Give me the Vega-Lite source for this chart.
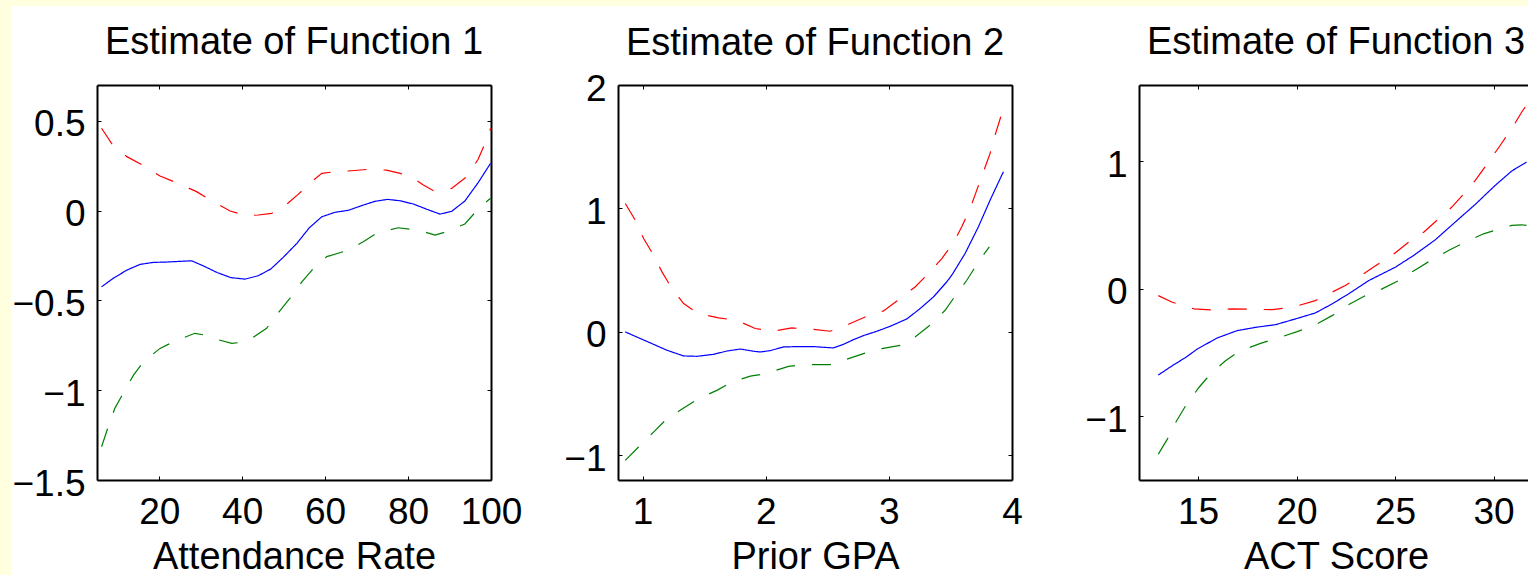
{
  "$schema": "https://vega.github.io/schema/vega-lite/v6.json",
  "background": "white",
  "padding": 0,
  "config": {
    "font": "Liberation Sans",
    "view": {"stroke": null},
    "axis": {
      "grid": false, "domainColor": "black", "domainWidth": 2,
      "tickColor": "black", "tickWidth": 1, "tickSize": -4,
      "labelFont": "Liberation Sans", "labelFontSize": 37, "labelColor": "black",
      "labelFlush": false, "labelOverlap": false, "labelPadding": 18,
      "titleFont": "Liberation Sans", "titleFontSize": 38, "titleFontWeight": "normal",
      "titleColor": "black", "titlePadding": 8
    },
    "axisY": {"labelPadding": 16, "labelOffset": 4, "labelBaseline": "middle"},
    "title": {"font": "Liberation Sans", "fontSize": 38, "fontWeight": "normal", "color": "black", "baseline": "alphabetic", "offset": 23, "anchor": "middle", "frame": "group"}
  },
  "datasets": {
    "f1": [
      {"x": 6.1, "y": -0.424, "s": "est"}, {"x": 8.9, "y": -0.377, "s": "est"}, {"x": 12.2, "y": -0.331, "s": "est"}, {"x": 15.4, "y": -0.299, "s": "est"}, {"x": 18.6, "y": -0.288, "s": "est"}, {"x": 21.8, "y": -0.286, "s": "est"}, {"x": 27.8, "y": -0.279, "s": "est"}, {"x": 30.6, "y": -0.307, "s": "est"}, {"x": 33.9, "y": -0.344, "s": "est"}, {"x": 37.3, "y": -0.373, "s": "est"}, {"x": 40.7, "y": -0.381, "s": "est"}, {"x": 43.9, "y": -0.362, "s": "est"}, {"x": 46.9, "y": -0.325, "s": "est"}, {"x": 49.9, "y": -0.26, "s": "est"}, {"x": 53.2, "y": -0.182, "s": "est"}, {"x": 56.2, "y": -0.095, "s": "est"}, {"x": 59.2, "y": -0.034, "s": "est"}, {"x": 62.4, "y": -0.009, "s": "est"}, {"x": 65.6, "y": 0.002, "s": "est"}, {"x": 68.8, "y": 0.028, "s": "est"}, {"x": 72.0, "y": 0.052, "s": "est"}, {"x": 75.1, "y": 0.063, "s": "est"}, {"x": 78.1, "y": 0.055, "s": "est"}, {"x": 81.3, "y": 0.037, "s": "est"}, {"x": 84.5, "y": 0.008, "s": "est"}, {"x": 87.7, "y": -0.019, "s": "est"}, {"x": 90.5, "y": -0.004, "s": "est"}, {"x": 93.7, "y": 0.054, "s": "est"}, {"x": 96.9, "y": 0.156, "s": "est"}, {"x": 99.9, "y": 0.264, "s": "est"},
      {"x": 6.1, "y": 0.459, "s": "up"}, {"x": 8.5, "y": 0.375, "s": "up"}, {"x": 12.2, "y": 0.301, "s": "up"}, {"x": 16.2, "y": 0.251, "s": "up"}, {"x": 20.2, "y": 0.193, "s": "up"}, {"x": 24.6, "y": 0.152, "s": "up"}, {"x": 29.0, "y": 0.106, "s": "up"}, {"x": 32.7, "y": 0.054, "s": "up"}, {"x": 37.1, "y": -0.002, "s": "up"}, {"x": 41.1, "y": -0.028, "s": "up"}, {"x": 43.9, "y": -0.024, "s": "up"}, {"x": 47.1, "y": -0.015, "s": "up"}, {"x": 49.9, "y": 0.019, "s": "up"}, {"x": 53.5, "y": 0.091, "s": "up"}, {"x": 56.7, "y": 0.161, "s": "up"}, {"x": 59.2, "y": 0.208, "s": "up"}, {"x": 62.4, "y": 0.217, "s": "up"}, {"x": 65.6, "y": 0.221, "s": "up"}, {"x": 70.4, "y": 0.23, "s": "up"}, {"x": 74.8, "y": 0.226, "s": "up"}, {"x": 78.1, "y": 0.208, "s": "up"}, {"x": 81.3, "y": 0.18, "s": "up"}, {"x": 83.7, "y": 0.143, "s": "up"}, {"x": 86.1, "y": 0.111, "s": "up"}, {"x": 88.5, "y": 0.115, "s": "up"}, {"x": 90.5, "y": 0.124, "s": "up"}, {"x": 94.1, "y": 0.189, "s": "up"}, {"x": 96.9, "y": 0.286, "s": "up"}, {"x": 99.4, "y": 0.421, "s": "up"}, {"x": 99.9, "y": 0.459, "s": "up"},
      {"x": 6.1, "y": -1.315, "s": "lo"}, {"x": 7.7, "y": -1.204, "s": "lo"}, {"x": 9.3, "y": -1.101, "s": "lo"}, {"x": 11.3, "y": -1.018, "s": "lo"}, {"x": 13.8, "y": -0.916, "s": "lo"}, {"x": 16.2, "y": -0.841, "s": "lo"}, {"x": 20.2, "y": -0.767, "s": "lo"}, {"x": 23.8, "y": -0.726, "s": "lo"}, {"x": 28.6, "y": -0.683, "s": "lo"}, {"x": 31.0, "y": -0.693, "s": "lo"}, {"x": 33.0, "y": -0.711, "s": "lo"}, {"x": 37.5, "y": -0.739, "s": "lo"}, {"x": 41.1, "y": -0.73, "s": "lo"}, {"x": 45.9, "y": -0.655, "s": "lo"}, {"x": 48.3, "y": -0.581, "s": "lo"}, {"x": 51.5, "y": -0.488, "s": "lo"}, {"x": 54.4, "y": -0.396, "s": "lo"}, {"x": 57.2, "y": -0.321, "s": "lo"}, {"x": 60.4, "y": -0.256, "s": "lo"}, {"x": 65.2, "y": -0.223, "s": "lo"}, {"x": 69.2, "y": -0.173, "s": "lo"}, {"x": 72.4, "y": -0.126, "s": "lo"}, {"x": 77.6, "y": -0.095, "s": "lo"}, {"x": 82.5, "y": -0.108, "s": "lo"}, {"x": 86.5, "y": -0.136, "s": "lo"}, {"x": 89.3, "y": -0.117, "s": "lo"}, {"x": 93.7, "y": -0.074, "s": "lo"}, {"x": 97.4, "y": 0.022, "s": "lo"}, {"x": 99.9, "y": 0.069, "s": "lo"}
    ],
    "f2": [
      {"x": 0.859, "y": 0.0, "s": "est"}, {"x": 0.981, "y": -0.054, "s": "est"}, {"x": 1.089, "y": -0.101, "s": "est"}, {"x": 1.198, "y": -0.149, "s": "est"}, {"x": 1.333, "y": -0.195, "s": "est"}, {"x": 1.441, "y": -0.198, "s": "est"}, {"x": 1.576, "y": -0.182, "s": "est"}, {"x": 1.685, "y": -0.155, "s": "est"}, {"x": 1.793, "y": -0.139, "s": "est"}, {"x": 1.901, "y": -0.157, "s": "est"}, {"x": 1.955, "y": -0.163, "s": "est"}, {"x": 2.036, "y": -0.152, "s": "est"}, {"x": 2.144, "y": -0.122, "s": "est"}, {"x": 2.28, "y": -0.119, "s": "est"}, {"x": 2.388, "y": -0.119, "s": "est"}, {"x": 2.469, "y": -0.125, "s": "est"}, {"x": 2.55, "y": -0.13, "s": "est"}, {"x": 2.631, "y": -0.101, "s": "est"}, {"x": 2.712, "y": -0.063, "s": "est"}, {"x": 2.794, "y": -0.03, "s": "est"}, {"x": 2.902, "y": 0.005, "s": "est"}, {"x": 3.01, "y": 0.045, "s": "est"}, {"x": 3.146, "y": 0.105, "s": "est"}, {"x": 3.254, "y": 0.189, "s": "est"}, {"x": 3.362, "y": 0.283, "s": "est"}, {"x": 3.47, "y": 0.405, "s": "est"}, {"x": 3.511, "y": 0.459, "s": "est"}, {"x": 3.619, "y": 0.635, "s": "est"}, {"x": 3.727, "y": 0.851, "s": "est"}, {"x": 3.822, "y": 1.067, "s": "est"}, {"x": 3.93, "y": 1.297, "s": "est"},
      {"x": 0.859, "y": 1.04, "s": "up"}, {"x": 0.94, "y": 0.905, "s": "up"}, {"x": 1.008, "y": 0.757, "s": "up"}, {"x": 1.089, "y": 0.621, "s": "up"}, {"x": 1.157, "y": 0.486, "s": "up"}, {"x": 1.238, "y": 0.351, "s": "up"}, {"x": 1.333, "y": 0.229, "s": "up"}, {"x": 1.454, "y": 0.148, "s": "up"}, {"x": 1.617, "y": 0.113, "s": "up"}, {"x": 1.766, "y": 0.094, "s": "up"}, {"x": 1.914, "y": 0.027, "s": "up"}, {"x": 2.063, "y": 0.007, "s": "up"}, {"x": 2.212, "y": 0.032, "s": "up"}, {"x": 2.375, "y": 0.021, "s": "up"}, {"x": 2.523, "y": 0.005, "s": "up"}, {"x": 2.672, "y": 0.062, "s": "up"}, {"x": 2.807, "y": 0.121, "s": "up"}, {"x": 2.956, "y": 0.17, "s": "up"}, {"x": 3.091, "y": 0.27, "s": "up"}, {"x": 3.213, "y": 0.364, "s": "up"}, {"x": 3.321, "y": 0.473, "s": "up"}, {"x": 3.43, "y": 0.594, "s": "up"}, {"x": 3.524, "y": 0.721, "s": "up"}, {"x": 3.592, "y": 0.851, "s": "up"}, {"x": 3.66, "y": 1.0, "s": "up"}, {"x": 3.714, "y": 1.148, "s": "up"}, {"x": 3.768, "y": 1.297, "s": "up"}, {"x": 3.822, "y": 1.446, "s": "up"}, {"x": 3.863, "y": 1.595, "s": "up"}, {"x": 3.909, "y": 1.743, "s": "up"},
      {"x": 0.859, "y": -1.041, "s": "lo"}, {"x": 0.967, "y": -0.933, "s": "lo"}, {"x": 1.089, "y": -0.812, "s": "lo"}, {"x": 1.198, "y": -0.703, "s": "lo"}, {"x": 1.333, "y": -0.617, "s": "lo"}, {"x": 1.454, "y": -0.541, "s": "lo"}, {"x": 1.603, "y": -0.474, "s": "lo"}, {"x": 1.725, "y": -0.406, "s": "lo"}, {"x": 1.874, "y": -0.358, "s": "lo"}, {"x": 1.955, "y": -0.346, "s": "lo"}, {"x": 2.063, "y": -0.317, "s": "lo"}, {"x": 2.185, "y": -0.279, "s": "lo"}, {"x": 2.334, "y": -0.265, "s": "lo"}, {"x": 2.523, "y": -0.265, "s": "lo"}, {"x": 2.631, "y": -0.23, "s": "lo"}, {"x": 2.794, "y": -0.176, "s": "lo"}, {"x": 2.943, "y": -0.135, "s": "lo"}, {"x": 3.091, "y": -0.109, "s": "lo"}, {"x": 3.213, "y": -0.041, "s": "lo"}, {"x": 3.349, "y": 0.067, "s": "lo"}, {"x": 3.457, "y": 0.175, "s": "lo"}, {"x": 3.552, "y": 0.311, "s": "lo"}, {"x": 3.633, "y": 0.418, "s": "lo"}, {"x": 3.727, "y": 0.567, "s": "lo"}, {"x": 3.816, "y": 0.689, "s": "lo"}
    ],
    "f3": [
      {"x": 12.98, "y": -0.676, "s": "est"}, {"x": 13.69, "y": -0.603, "s": "est"}, {"x": 14.37, "y": -0.538, "s": "est"}, {"x": 14.96, "y": -0.472, "s": "est"}, {"x": 15.97, "y": -0.385, "s": "est"}, {"x": 16.98, "y": -0.328, "s": "est"}, {"x": 17.91, "y": -0.302, "s": "est"}, {"x": 18.93, "y": -0.281, "s": "est"}, {"x": 19.94, "y": -0.236, "s": "est"}, {"x": 20.95, "y": -0.189, "s": "est"}, {"x": 21.8, "y": -0.118, "s": "est"}, {"x": 22.64, "y": -0.039, "s": "est"}, {"x": 23.66, "y": 0.065, "s": "est"}, {"x": 25.01, "y": 0.17, "s": "est"}, {"x": 25.94, "y": 0.262, "s": "est"}, {"x": 27.04, "y": 0.385, "s": "est"}, {"x": 28.05, "y": 0.524, "s": "est"}, {"x": 29.07, "y": 0.663, "s": "est"}, {"x": 30.08, "y": 0.812, "s": "est"}, {"x": 30.92, "y": 0.925, "s": "est"}, {"x": 31.67, "y": 0.995, "s": "est"},
      {"x": 12.98, "y": -0.053, "s": "up"}, {"x": 13.69, "y": -0.105, "s": "up"}, {"x": 14.79, "y": -0.157, "s": "up"}, {"x": 15.72, "y": -0.165, "s": "up"}, {"x": 16.73, "y": -0.157, "s": "up"}, {"x": 17.75, "y": -0.16, "s": "up"}, {"x": 18.76, "y": -0.163, "s": "up"}, {"x": 19.77, "y": -0.145, "s": "up"}, {"x": 20.95, "y": -0.092, "s": "up"}, {"x": 21.63, "y": -0.039, "s": "up"}, {"x": 22.47, "y": 0.026, "s": "up"}, {"x": 23.15, "y": 0.091, "s": "up"}, {"x": 24.08, "y": 0.189, "s": "up"}, {"x": 24.84, "y": 0.262, "s": "up"}, {"x": 25.68, "y": 0.366, "s": "up"}, {"x": 26.45, "y": 0.445, "s": "up"}, {"x": 27.21, "y": 0.55, "s": "up"}, {"x": 27.88, "y": 0.642, "s": "up"}, {"x": 28.56, "y": 0.759, "s": "up"}, {"x": 29.07, "y": 0.851, "s": "up"}, {"x": 29.74, "y": 0.995, "s": "up"}, {"x": 30.34, "y": 1.127, "s": "up"}, {"x": 30.92, "y": 1.258, "s": "up"}, {"x": 31.43, "y": 1.388, "s": "up"}, {"x": 31.67, "y": 1.441, "s": "up"},
      {"x": 12.98, "y": -1.297, "s": "lo"}, {"x": 13.44, "y": -1.179, "s": "lo"}, {"x": 13.86, "y": -1.049, "s": "lo"}, {"x": 14.37, "y": -0.917, "s": "lo"}, {"x": 15.04, "y": -0.774, "s": "lo"}, {"x": 15.63, "y": -0.668, "s": "lo"}, {"x": 16.39, "y": -0.564, "s": "lo"}, {"x": 17.07, "y": -0.49, "s": "lo"}, {"x": 18.17, "y": -0.428, "s": "lo"}, {"x": 19.01, "y": -0.388, "s": "lo"}, {"x": 20.03, "y": -0.336, "s": "lo"}, {"x": 20.95, "y": -0.283, "s": "lo"}, {"x": 21.8, "y": -0.21, "s": "lo"}, {"x": 22.56, "y": -0.131, "s": "lo"}, {"x": 23.49, "y": -0.053, "s": "lo"}, {"x": 24.34, "y": 0.0, "s": "lo"}, {"x": 25.18, "y": 0.065, "s": "lo"}, {"x": 26.02, "y": 0.149, "s": "lo"}, {"x": 26.95, "y": 0.236, "s": "lo"}, {"x": 27.71, "y": 0.301, "s": "lo"}, {"x": 28.64, "y": 0.374, "s": "lo"}, {"x": 29.49, "y": 0.432, "s": "lo"}, {"x": 30.16, "y": 0.464, "s": "lo"}, {"x": 30.92, "y": 0.498, "s": "lo"}, {"x": 31.43, "y": 0.503, "s": "lo"}, {"x": 31.67, "y": 0.498, "s": "lo"}
    ]
  },
  "spacing": 0,
  "bounds": "flush",
  "hconcat": [
    {
      "width": 11, "height": 575,
      "view": {"fill": "#FFFFE0", "stroke": null},
      "data": {"values": []},
      "mark": "point",
      "encoding": {}
    },
    {
      "spacing": 79,
      "bounds": "flush",
      "vconcat": [
        {
          "width": 1517, "height": 6,
          "view": {"fill": "#FFFFE0", "stroke": null},
          "data": {"values": []},
          "mark": "point",
          "encoding": {}
        },
        {
          "spacing": 85,
          "bounds": "flush",
          "hconcat": [
            {
              "width": 1, "height": 1,
              "view": {"stroke": null},
              "data": {"values": []},
              "mark": "point",
              "encoding": {}
            },
            {
              "spacing": 127,
              "bounds": "flush",
              "hconcat": [
                {
                  "title": "Estimate of Function 1",
                  "width": 394, "height": 395,
                  "data": {"name": "f1"},
                  "layer": [
                    {
                      "mark": {"type": "line", "strokeWidth": 1.2, "clip": true},
                      "encoding": {
                        "x": {"field": "x", "type": "quantitative", "scale": {"domain": [5, 100], "nice": false, "zero": false}, "axis": {"orient": "bottom", "values": [20, 40, 60, 80, 100], "title": "Attendance Rate"}},
                        "y": {"field": "y", "type": "quantitative", "scale": {"domain": [-1.5, 0.7], "nice": false, "zero": false}, "axis": {"orient": "left", "values": [-1.5, -1, -0.5, 0, 0.5], "format": "~f", "title": null}},
                        "color": {"field": "s", "type": "nominal", "scale": {"domain": ["est", "up", "lo"], "range": ["#0000ff", "#ff0000", "#008000"]}, "legend": null},
                        "strokeDash": {"field": "s", "type": "nominal", "scale": {"domain": ["est", "up", "lo"], "range": [[1, 0], [19, 17], [19, 17]]}, "legend": null}
                      }
                    },
                    {
                      "mark": {"type": "line", "opacity": 0},
                      "encoding": {
                        "x": {"field": "x", "type": "quantitative", "scale": {"domain": [5, 100], "nice": false, "zero": false}, "axis": {"orient": "top", "values": [20, 40, 60, 80, 100], "labels": false, "title": null}},
                        "y": {"field": "y", "type": "quantitative", "scale": {"domain": [-1.5, 0.7], "nice": false, "zero": false}, "axis": {"orient": "right", "values": [-1.5, -1, -0.5, 0, 0.5], "labels": false, "title": null}},
                        "detail": {"field": "s", "type": "nominal"}
                      }
                    }
                  ],
                  "resolve": {"axis": {"x": "independent", "y": "independent"}}
                },
                {
                  "title": {"text": "Estimate of Function 2", "offset": 7},
                  "width": 394, "height": 395,
                  "data": {"name": "f2"},
                  "layer": [
                    {
                      "mark": {"type": "line", "strokeWidth": 1.2, "clip": true},
                      "encoding": {
                        "x": {"field": "x", "type": "quantitative", "scale": {"domain": [0.8, 4], "nice": false, "zero": false}, "axis": {"orient": "bottom", "values": [1, 2, 3, 4], "title": "Prior GPA"}},
                        "y": {"field": "y", "type": "quantitative", "scale": {"domain": [-1.2, 2], "nice": false, "zero": false}, "axis": {"orient": "left", "values": [-1, 0, 1, 2], "format": "~f", "title": null}},
                        "color": {"field": "s", "type": "nominal", "scale": {"domain": ["est", "up", "lo"], "range": ["#0000ff", "#ff0000", "#008000"]}, "legend": null},
                        "strokeDash": {"field": "s", "type": "nominal", "scale": {"domain": ["est", "up", "lo"], "range": [[1, 0], [19, 17], [19, 17]]}, "legend": null}
                      }
                    },
                    {
                      "mark": {"type": "line", "opacity": 0},
                      "encoding": {
                        "x": {"field": "x", "type": "quantitative", "scale": {"domain": [0.8, 4], "nice": false, "zero": false}, "axis": {"orient": "top", "values": [1, 2, 3, 4], "labels": false, "title": null}},
                        "y": {"field": "y", "type": "quantitative", "scale": {"domain": [-1.2, 2], "nice": false, "zero": false}, "axis": {"orient": "right", "values": [-1, 0, 1, 2], "labels": false, "title": null}},
                        "detail": {"field": "s", "type": "nominal"}
                      }
                    }
                  ],
                  "resolve": {"axis": {"x": "independent", "y": "independent"}}
                },
                {
                  "title": "Estimate of Function 3",
                  "width": 394, "height": 395,
                  "data": {"name": "f3"},
                  "layer": [
                    {
                      "mark": {"type": "line", "strokeWidth": 1.2, "clip": true},
                      "encoding": {
                        "x": {"field": "x", "type": "quantitative", "scale": {"domain": [12, 32], "nice": false, "zero": false}, "axis": {"orient": "bottom", "values": [15, 20, 25, 30], "title": "ACT Score"}},
                        "y": {"field": "y", "type": "quantitative", "scale": {"domain": [-1.5, 1.6], "nice": false, "zero": false}, "axis": {"orient": "left", "values": [-1, 0, 1], "format": "~f", "title": null}},
                        "color": {"field": "s", "type": "nominal", "scale": {"domain": ["est", "up", "lo"], "range": ["#0000ff", "#ff0000", "#008000"]}, "legend": null},
                        "strokeDash": {"field": "s", "type": "nominal", "scale": {"domain": ["est", "up", "lo"], "range": [[1, 0], [19, 17], [19, 17]]}, "legend": null}
                      }
                    },
                    {
                      "mark": {"type": "line", "opacity": 0},
                      "encoding": {
                        "x": {"field": "x", "type": "quantitative", "scale": {"domain": [12, 32], "nice": false, "zero": false}, "axis": {"orient": "top", "values": [15, 20, 25, 30], "labels": false, "title": null}},
                        "y": {"field": "y", "type": "quantitative", "scale": {"domain": [-1.5, 1.6], "nice": false, "zero": false}, "axis": {"orient": "right", "values": [-1, 0, 1], "labels": false, "title": null}},
                        "detail": {"field": "s", "type": "nominal"}
                      }
                    }
                  ],
                  "resolve": {"axis": {"x": "independent", "y": "independent"}}
                }
              ]
            }
          ]
        }
      ]
    }
  ]
}
